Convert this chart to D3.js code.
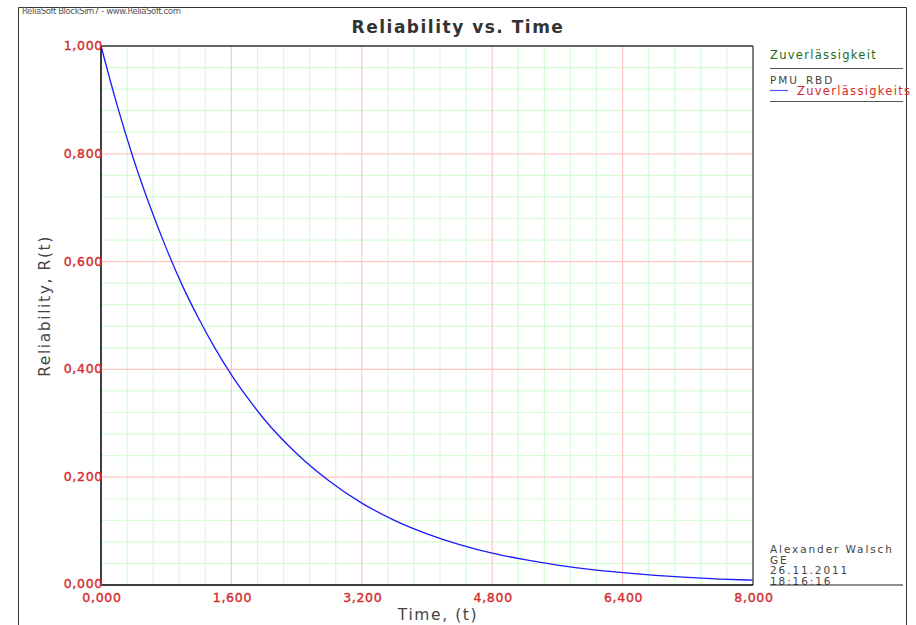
<!DOCTYPE html>
<meta charset="utf-8">
<body style="margin:0;background:#fff">
<svg id="chart" width="916" height="625"></svg>
</body>
<style>
text { font-family: "DejaVu Sans", Verdana, sans-serif; }
.tick-lbl { fill: #d42a2a; stroke: #d42a2a; stroke-width: 0.35px; font-size: 12.5px; letter-spacing: 0.7px; }
.axis-title { fill: #444; font-size: 15.5px; letter-spacing: 1.6px; }
.side { fill: #444; font-size: 10.5px; letter-spacing: 1.9px; }
</style>
<script src="https://d3js.org/d3.v7.min.js"></script>
<script>

// values
var times = [0, 200, 400, 600, 800, 1000, 1200, 1400, 1600, 1800, 2000, 2400, 2800, 3200,
             3600, 4000, 4400, 4800, 5200, 5600, 6000, 6400, 6800, 7200, 7600, 8000];
var reliab = [1.000, 0.889, 0.790, 0.703, 0.625, 0.555, 0.494, 0.439, 0.390, 0.347, 0.308,
              0.244, 0.193, 0.152, 0.120, 0.095, 0.075, 0.059, 0.047, 0.037, 0.029, 0.023,
              0.018, 0.014, 0.011, 0.009];

var xTicks = [0, 1600, 3200, 4800, 6400, 8000];
var yTicks = [0, 0.2, 0.4, 0.6, 0.8, 1.0];
var xLabels = ["0,000", "1,600", "3,200", "4,800", "6,400", "8,000"];
var yLabels = ["0,000", "0,200", "0,400", "0,600", "0,800", "1,000"];

var legendTitle = "Zuverlässigkeit";
var seriesGroup = "PMU_RBD";
var seriesName = "Zuverlässigkeits";
var footer = ["Alexander Walsch", "GE", "26.11.2011", "18:16:16"];

var svg = d3.select("#chart");
var m = {left: 101, right: 753, top: 46, bottom: 585};

var x = d3.scaleLinear().domain([0, 8000]).range([m.left, m.right]);
var y = d3.scaleLinear().domain([0, 1]).range([m.bottom, m.top]);

// outer frame
svg.append("path")
    .attr("d", "M18.5,625 V7.5 H906.5 V625")
    .attr("fill", "none").attr("stroke", "#333").attr("stroke-width", 1);

svg.append("text")
    .attr("x", 22).attr("y", 14)
    .attr("font-size", 8.5).attr("fill", "#555").attr("letter-spacing", "-0.4px")
    .text("ReliaSoft BlockSim7 - www.ReliaSoft.com");

// grid: minor green, major red
var minorX = d3.range(0, 8001, 320).filter(d => d % 1600 != 0);
var minorY = d3.range(0, 26).map(i => i * 0.04).filter((d, i) => i % 5 != 0);

var grid = svg.append("g");
grid.selectAll(".mx").data(minorX).enter().append("line")
    .attr("x1", d => x(d)).attr("x2", d => x(d)).attr("y1", m.top).attr("y2", m.bottom)
    .attr("stroke", "#d6fbd6").attr("stroke-width", 1.2);
grid.selectAll(".my").data(minorY).enter().append("line")
    .attr("y1", d => y(d)).attr("y2", d => y(d)).attr("x1", m.left).attr("x2", m.right)
    .attr("stroke", "#d6fbd6").attr("stroke-width", 1.2);
grid.selectAll(".Mx").data(xTicks.slice(1, -1)).enter().append("line")
    .attr("x1", d => x(d)).attr("x2", d => x(d)).attr("y1", m.top).attr("y2", m.bottom)
    .attr("stroke", "#ffc4c4").attr("stroke-width", 1.2);
grid.selectAll(".My").data(yTicks.slice(1, -1)).enter().append("line")
    .attr("y1", d => y(d)).attr("y2", d => y(d)).attr("x1", m.left).attr("x2", m.right)
    .attr("stroke", "#ffc4c4").attr("stroke-width", 1.2);

// curve
var line = d3.line()
    .x((d, i) => x(times[i]))
    .y(d => y(d))
    .curve(d3.curveMonotoneX);

svg.append("path")
    .datum(reliab)
    .attr("d", line)
    .attr("fill", "none").attr("stroke", "#1a1aff").attr("stroke-width", 1.3);

// borders
svg.append("line").attr("x1", m.left).attr("x2", m.right).attr("y1", m.top).attr("y2", m.top)
    .attr("stroke", "#666").attr("stroke-width", 2);
svg.append("line").attr("x1", m.right).attr("x2", m.right).attr("y1", m.top).attr("y2", m.bottom)
    .attr("stroke", "#555").attr("stroke-width", 1.5);
svg.append("line").attr("x1", m.left).attr("x2", m.left).attr("y1", m.top).attr("y2", m.bottom)
    .attr("stroke", "#000").attr("stroke-width", 1.5);
svg.append("line").attr("x1", m.left).attr("x2", m.right).attr("y1", m.bottom).attr("y2", m.bottom)
    .attr("stroke", "#000").attr("stroke-width", 1.5);

// tick labels
svg.selectAll(".xl").data(xTicks).enter().append("text")
    .attr("class", "tick-lbl")
    .attr("x", d => x(d) + 1).attr("y", m.bottom + 17)
    .attr("text-anchor", "middle")
    .text((d, i) => xLabels[i]);

svg.selectAll(".yl").data(yTicks).enter().append("text")
    .attr("class", "tick-lbl")
    .attr("x", m.left + 2).attr("y", d => y(d) + (d === 0 ? 3 : 4))
    .attr("text-anchor", "end")
    .text((d, i) => yLabels[i]);

// titles
svg.append("text")
    .attr("x", 458).attr("y", 33)
    .attr("text-anchor", "middle")
    .attr("font-size", 17).attr("font-weight", "bold").attr("fill", "#333")
    .attr("letter-spacing", "1.5px")
    .text("Reliability vs. Time");

svg.append("text")
    .attr("class", "axis-title")
    .attr("x", 438).attr("y", 620)
    .attr("text-anchor", "middle")
    .text("Time, (t)");

svg.append("text")
    .attr("class", "axis-title")
    .attr("transform", "translate(50,306) rotate(-90)")
    .attr("text-anchor", "middle")
    .text("Reliability, R(t)");

// legend
var lx = 770;
svg.append("text").attr("x", lx).attr("y", 59)
    .attr("font-size", 11.5).attr("fill", "#1d6b1d").attr("letter-spacing", "1.3px")
    .text(legendTitle);
svg.append("line").attr("x1", lx).attr("x2", 903).attr("y1", 68.5).attr("y2", 68.5)
    .attr("stroke", "#555").attr("stroke-width", 1.2);
svg.append("text").attr("x", lx).attr("y", 84)
    .attr("class", "side").attr("font-size", 11.5).attr("letter-spacing", "0.8px")
    .text(seriesGroup);
svg.append("line").attr("x1", lx).attr("x2", 788).attr("y1", 90.5).attr("y2", 90.5)
    .attr("stroke", "#5555ff").attr("stroke-width", 1.2);
svg.append("text").attr("x", 797).attr("y", 95)
    .attr("font-size", 11.5).attr("fill", "#d42a2a").attr("letter-spacing", "1.3px")
    .text(seriesName);
svg.append("line").attr("x1", lx).attr("x2", 903).attr("y1", 101.5).attr("y2", 101.5)
    .attr("stroke", "#555").attr("stroke-width", 1.2);

svg.selectAll(".ft").data(footer).enter().append("text")
    .attr("class", "side")
    .attr("x", lx).attr("y", (d, i) => 553 + i * 10.7)
    .text(d => d);
svg.append("line").attr("x1", lx).attr("x2", 903).attr("y1", 585).attr("y2", 585)
    .attr("stroke", "#222").attr("stroke-width", 1.2);

</script>
